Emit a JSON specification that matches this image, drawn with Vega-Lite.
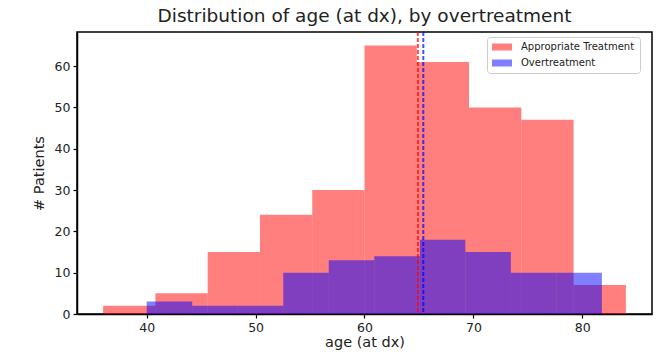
{
  "$schema": "https://vega.github.io/schema/vega-lite/v6.json",
  "width": 575,
  "height": 282,
  "padding": {"left": 77, "top": 32, "right": 15, "bottom": 49},
  "autosize": "none",
  "background": "white",
  "config": {
    "font": "DejaVu Sans",
    "view": {"stroke": "#000000", "strokeWidth": 1.5},
    "axis": {
      "grid": false,
      "domain": true,
      "domainColor": "#000000",
      "domainWidth": 1.5,
      "ticks": true,
      "tickColor": "#000000",
      "tickWidth": 1.2,
      "tickSize": 4,
      "labelFontSize": 12.5,
      "labelColor": "#222",
      "labelPadding": 3,
      "titleFontSize": 14.5,
      "titleFontWeight": "normal",
      "titleColor": "#222"
    }
  },
  "title": {
    "text": "Distribution of age (at dx), by overtreatment",
    "fontSize": 18.5,
    "fontWeight": "normal",
    "color": "#222",
    "offset": 6,
    "anchor": "middle"
  },
  "datasets": {
    "hist": [
      {"group": "Appropriate Treatment", "start": 36.0, "end": 40.8, "count": 2},
      {"group": "Appropriate Treatment", "start": 40.8, "end": 45.6, "count": 5},
      {"group": "Appropriate Treatment", "start": 45.6, "end": 50.4, "count": 15},
      {"group": "Appropriate Treatment", "start": 50.4, "end": 55.2, "count": 24},
      {"group": "Appropriate Treatment", "start": 55.2, "end": 60.0, "count": 30},
      {"group": "Appropriate Treatment", "start": 60.0, "end": 64.8, "count": 65},
      {"group": "Appropriate Treatment", "start": 64.8, "end": 69.6, "count": 61},
      {"group": "Appropriate Treatment", "start": 69.6, "end": 74.4, "count": 50},
      {"group": "Appropriate Treatment", "start": 74.4, "end": 79.2, "count": 47},
      {"group": "Appropriate Treatment", "start": 79.2, "end": 84.0, "count": 7},
      {"group": "Overtreatment", "start": 40.0, "end": 44.18, "count": 3},
      {"group": "Overtreatment", "start": 44.18, "end": 48.36, "count": 2},
      {"group": "Overtreatment", "start": 48.36, "end": 52.54, "count": 2},
      {"group": "Overtreatment", "start": 52.54, "end": 56.72, "count": 10},
      {"group": "Overtreatment", "start": 56.72, "end": 60.9, "count": 13},
      {"group": "Overtreatment", "start": 60.9, "end": 65.08, "count": 14},
      {"group": "Overtreatment", "start": 65.08, "end": 69.26, "count": 18},
      {"group": "Overtreatment", "start": 69.26, "end": 73.44, "count": 15},
      {"group": "Overtreatment", "start": 73.44, "end": 77.62, "count": 10},
      {"group": "Overtreatment", "start": 77.62, "end": 81.8, "count": 10}
    ],
    "means": [
      {"group": "Appropriate Treatment", "mean": 64.9},
      {"group": "Overtreatment", "mean": 65.4}
    ]
  },
  "layer": [
    {
      "data": {"name": "hist"},
      "transform": [{"filter": "datum.group === 'Appropriate Treatment'"}],
      "mark": {"type": "bar", "opacity": 0.5},
      "encoding": {
        "x": {
          "field": "start", "type": "quantitative",
          "scale": {"domain": [33.6, 86.4], "nice": false, "zero": false},
          "axis": {"values": [40, 50, 60, 70, 80], "title": "age (at dx)", "titlePadding": 2}
        },
        "x2": {"field": "end"},
        "y": {
          "field": "count", "type": "quantitative", "stack": null,
          "scale": {"domain": [0, 68.25], "nice": false},
          "axis": {"values": [0, 10, 20, 30, 40, 50, 60], "title": "# Patients", "titlePadding": 8}
        },
        "y2": {"datum": 0},
        "color": {
          "field": "group", "type": "nominal",
          "scale": {"domain": ["Appropriate Treatment", "Overtreatment"], "range": ["red", "blue"]},
          "legend": {
            "title": null,
            "orient": "none",
            "legendX": 410,
            "legendY": 5,
            "symbolType": "M-2,-0.7H2V0.7H-2Z",
            "symbolSize": 100,
            "symbolOffset": 5,
            "symbolOpacity": 0.5,
            "symbolStrokeWidth": 0,
            "labelFontSize": 10,
            "labelColor": "#222",
            "labelOffset": 14,
            "rowPadding": 6,
            "padding": 5,
            "strokeColor": "#cccccc",
            "fillColor": "white",
            "cornerRadius": 3
          }
        }
      }
    },
    {
      "data": {"name": "hist"},
      "transform": [{"filter": "datum.group === 'Overtreatment'"}],
      "mark": {"type": "bar", "opacity": 0.5},
      "encoding": {
        "x": {"field": "start", "type": "quantitative"},
        "x2": {"field": "end"},
        "y": {"field": "count", "type": "quantitative", "stack": null},
        "y2": {"datum": 0},
        "color": {"field": "group", "type": "nominal"}
      }
    },
    {
      "data": {"name": "means"},
      "mark": {"type": "rule", "strokeDash": [4, 2], "strokeWidth": 2, "opacity": 0.7},
      "encoding": {
        "x": {"field": "mean", "type": "quantitative"},
        "stroke": {
          "field": "group", "type": "nominal",
          "scale": {"domain": ["Appropriate Treatment", "Overtreatment"], "range": ["red", "blue"]},
          "legend": null
        }
      }
    }
  ]
}
